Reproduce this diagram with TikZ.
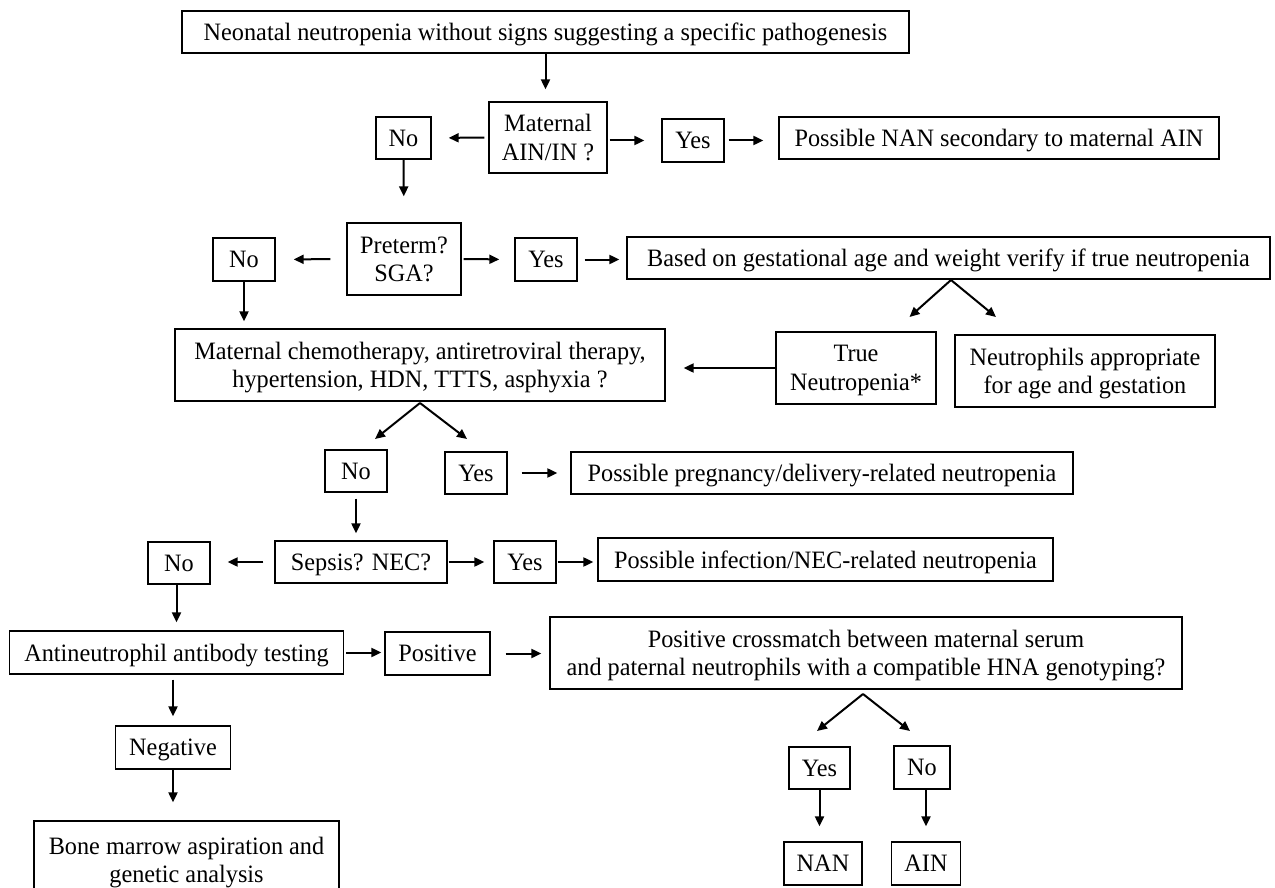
\documentclass[tikz,border=0pt]{standalone}
\usepackage{fontspec}
\setmainfont{Liberation Serif}[FakeStretch=0.97]
\usetikzlibrary{arrows.meta}

\begin{document}
\begin{tikzpicture}[
        x=1pt, y=-1pt,
        font=\fontsize{25}{28.5}\selectfont,
        box/.style={draw, line width=1.3pt, inner sep=2pt, align=center, text depth=0pt},
        arr/.style={-{Triangle[length=10pt,width=9pt]}, line width=2pt}
    ]
        \clip (0,0) rectangle (1275,888);

        % Start and maternal AIN
        \node[box, minimum width=727pt, minimum height=42pt] (start) at (545.5,32) {Neonatal neutropenia without signs suggesting a specific pathogenesis};
        \node[box, minimum width=118pt, minimum height=71pt] (mat) at (548,137.5) {Maternal\\AIN/IN ?};
        \node[box, minimum width=55pt, minimum height=42pt] (no1) at (403.5,138) {No};
        \node[box, minimum width=62pt, minimum height=43pt] (yes1) at (693,140.5) {Yes};
        \node[box, minimum width=440pt, minimum height=42pt] (nansec) at (999,138) {Possible NAN secondary to maternal AIN};

        % Preterm / SGA
        \node[box, minimum width=114pt, minimum height=72pt] (pre) at (404,259) {Preterm?\\SGA?};
        \node[box, minimum width=62pt, minimum height=43pt] (no2) at (244,259.5) {No};
        \node[box, minimum width=62pt, minimum height=43pt] (yes2) at (546,259.5) {Yes};
        \node[box, minimum width=643pt, minimum height=42pt] (based) at (948.5,258) {Based on gestational age and weight verify if true neutropenia};
        \node[box, minimum width=160pt, minimum height=72pt] (truen) at (856,368) {True\\Neutropenia*};
        \node[box, minimum width=260pt, minimum height=72pt] (appr) at (1085,371) {Neutrophils appropriate\\for age and gestation};

        % Maternal / delivery causes
        \node[box, minimum width=490pt, minimum height=72pt] (chemo) at (420,365) {Maternal chemotherapy, antiretroviral therapy,\\hypertension, HDN, TTTS, asphyxia ?};
        \node[box, minimum width=62pt, minimum height=42pt] (no3) at (356,471) {No};
        \node[box, minimum width=62pt, minimum height=42pt] (yes3) at (476,473) {Yes};
        \node[box, minimum width=502pt, minimum height=42pt] (preg) at (822,473) {Possible pregnancy/delivery-related neutropenia};

        % Sepsis / NEC
        \node[box, minimum width=172pt, minimum height=42pt] (sepsis) at (361,562) {Sepsis? NEC?};
        \node[box, minimum width=62pt, minimum height=42pt] (no4) at (179,563) {No};
        \node[box, minimum width=62pt, minimum height=42pt] (yes4) at (525,562) {Yes};
        \node[box, minimum width=455pt, minimum height=43pt] (infec) at (825.5,559.5) {Possible infection/NEC-related neutropenia};

        % Antibody testing
        \node[box, minimum width=334pt, minimum height=43pt] (anti) at (176.5,652.5) {Antineutrophil antibody testing};
        \node[box, minimum width=105pt, minimum height=43pt] (pos) at (437.5,653.5) {Positive};
        \node[box, minimum width=632pt, minimum height=72pt] (cross) at (866,653) {Positive crossmatch between maternal serum\\and paternal neutrophils with a compatible HNA genotyping?};
        \node[box, minimum width=115pt, minimum height=43pt] (neg) at (173,747.5) {Negative};
        \node[box, minimum width=305pt, minimum height=78pt] (bone) at (186.5,860) {Bone marrow aspiration and\\genetic analysis};
        \node[box, minimum width=61pt, minimum height=42pt] (yes5) at (819.5,768) {Yes};
        \node[box, minimum width=56pt, minimum height=43pt] (no5) at (922,767.5) {No};
        \node[box, minimum width=78pt, minimum height=43pt] (nanres) at (823,863.5) {NAN};
        \node[box, minimum width=69pt, minimum height=43pt] (ainres) at (926,863.5) {AIN};

        % Forks
        \coordinate (f1) at (951,280);
        \coordinate (f1l) at (909.5,317);
        \coordinate (f1r) at (996,317);
        \coordinate (f2) at (420,403);
        \coordinate (f2l) at (375,439);
        \coordinate (f2r) at (467,439);
        \coordinate (f3) at (863,694);
        \coordinate (f3l) at (817,731);
        \coordinate (f3r) at (910,731);

        % Arrows
        \draw[arr, shorten >=12pt] (start.south) -- (start.south |- mat.north);
        \draw[arr, shorten <=4pt, shorten >=17pt] (mat.west) -- (no1.east);
        \draw[arr, shorten <=2pt, shorten >=17pt] (mat.east |- yes1.west) -- (yes1.west);
        \draw[arr, shorten <=4pt, shorten >=15pt] (yes1.east) -- (nansec.west |- yes1.east);
        \draw[arr, shorten >=26pt] (no1.south) -- (pre.north);
        \draw[arr, shorten <=16pt, shorten >=18pt] (pre.west) -- (no2.east);
        \draw[arr, shorten <=2pt, shorten >=15pt] (pre.east) -- (yes2.west);
        \draw[arr, shorten <=7pt, shorten >=7pt] (yes2.east) -- (based.west |- yes2.east);
        \draw[arr] (f1) -- (f1l);
        \draw[arr] (f1) -- (f1r);
        \draw[arr, shorten >=18pt] (truen.west) -- (chemo.east |- truen.west);
        \draw[arr, shorten >=7pt] (no2.south) -- (no2.south |- chemo.north);
        \draw[arr] (f2) -- (f2l);
        \draw[arr] (f2) -- (f2r);
        \draw[arr, shorten <=14pt, shorten >=13pt] (yes3.east) -- (preg.west);
        \draw[arr, shorten <=6pt, shorten >=7pt] (no3.south) -- (no3.south |- sepsis.north);
        \draw[arr, shorten <=11pt, shorten >=17pt] (sepsis.west) -- (no4.east |- sepsis.west);
        \draw[arr, shorten <=1pt, shorten >=9pt] (sepsis.east) -- (yes4.west);
        \draw[arr, shorten <=1pt, shorten >=4pt] (yes4.east) -- (infec.west |- yes4.east);
        \draw[arr, shorten >=8pt] (no4.south -| anti.north) -- (anti.north);
        \draw[arr, shorten <=2pt, shorten >=3pt] (anti.east) -- (pos.west |- anti.east);
        \draw[arr, shorten <=15pt, shorten >=8pt] (pos.east) -- (cross.west |- pos.east);
        \draw[arr, shorten <=5pt, shorten >=9pt] (neg.north |- anti.south) -- (neg.north);
        \draw[arr, shorten >=18pt] (neg.south) -- (neg.south |- bone.north);
        \draw[arr] (f3) -- (f3l);
        \draw[arr] (f3) -- (f3r);
        \draw[arr, shorten >=15pt] (yes5.south) -- (yes5.south |- nanres.north);
        \draw[arr, shorten >=15pt] (ainres.north |- no5.south) -- (ainres.north);
    \end{tikzpicture}
\end{document}
